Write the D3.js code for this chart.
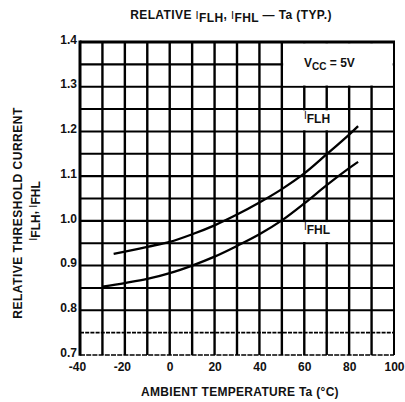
<!DOCTYPE html>
<html><head><meta charset="utf-8">
<script src="https://cdn.jsdelivr.net/npm/d3@7"></script>
<style>
body{margin:0;background:#fff}
svg{display:block}
text{font-family:"Liberation Sans",Arial,sans-serif;font-weight:bold;fill:#111}
</style>
</head><body><svg id="c" width="405" height="402"></svg>
<script>
// ---- data ----
const xTicks = [-40, -20, 0, 20, 40, 60, 80, 100];
const yTicks = [0.7, 0.8, 0.9, 1.0, 1.1, 1.2, 1.3, 1.4];
const yTickLabels = ["0.7", "0.8", "0.9", "1.0", "1.1", "1.2", "1.3", "1.4"];
const flhTemp = [-25, -20, -10, 0, 10, 20, 30, 40, 50, 60, 70, 80, 84];
const flhVal  = [0.926, 0.931, 0.942, 0.953, 0.970, 0.990, 1.014, 1.041, 1.071, 1.106, 1.149, 1.193, 1.212];
const fhlTemp = [-30, -20, -10, 0, 10, 20, 30, 40, 50, 60, 70, 80, 84];
const fhlVal  = [0.853, 0.861, 0.870, 0.883, 0.900, 0.920, 0.944, 0.970, 1.001, 1.039, 1.080, 1.118, 1.132];

const svg = d3.select("#c");
const L = 80, R = 394, T = 42, B = 355;
const x = d3.scaleLinear().domain([-40, 100]).range([L, R]);
const y = d3.scaleLinear().domain([0.7, 1.4]).range([B, T]);

// grid
const g = svg.append("g");
g.selectAll("line.v").data(d3.range(-30, 100, 10)).join("line").attr("class", "v")
  .attr("x1", d => x(d)).attr("x2", d => x(d)).attr("y1", T).attr("y2", B)
  .attr("stroke", "#000").attr("stroke-width", 2.4);
const hVals = d3.range(15, 28).map(i => +(i * 0.05).toFixed(2));
g.selectAll("line.h").data(hVals).join("line").attr("class", "h")
  .attr("x1", L).attr("x2", R).attr("y1", d => y(d)).attr("y2", d => y(d))
  .attr("stroke", "#000").attr("stroke-width", d => d === 0.75 ? 1.6 : 2.1)
  .attr("stroke-dasharray", d => d === 0.75 ? "4,1.2" : null);

// white label boxes
function whiteBox(t0, t1, v0, v1) {
  svg.append("rect")
    .attr("x", x(t0) + 1.3).attr("y", y(v1) + 1.2)
    .attr("width", x(t1) - x(t0) - 2.6).attr("height", y(v0) - y(v1) - 2.4)
    .attr("fill", "#fff");
}
whiteBox(50, 100, 1.3, 1.4);
whiteBox(50, 80, 1.2, 1.25);
whiteBox(50, 80, 0.95, 1.0);

// frame
const fr = svg.append("g").attr("stroke", "#000").attr("fill", "none");
fr.append("line").attr("x1", L).attr("x2", L).attr("y1", T - 1.5).attr("y2", B + 0.8).attr("stroke-width", 3);
fr.append("line").attr("x1", L).attr("x2", R + 1).attr("y1", T).attr("y2", T).attr("stroke-width", 3);
fr.append("line").attr("x1", R).attr("x2", R).attr("y1", T).attr("y2", B).attr("stroke-width", 2);
fr.append("line").attr("x1", L).attr("x2", R).attr("y1", B).attr("y2", B).attr("stroke-width", 1.6)
  .attr("stroke-dasharray", "5,1.2");

// curves
const line = d3.line().x(d => x(d[0])).y(d => y(d[1])).curve(d3.curveCatmullRom.alpha(0.5));
svg.append("path").datum(flhTemp.map((t, i) => [t, flhVal[i]]))
  .attr("d", line).attr("fill", "none").attr("stroke", "#000").attr("stroke-width", 2.3);
svg.append("path").datum(fhlTemp.map((t, i) => [t, fhlVal[i]]))
  .attr("d", line).attr("fill", "none").attr("stroke", "#000").attr("stroke-width", 2.3);

// axes tick labels
const xa = d3.axisBottom(x).tickValues(xTicks).tickSize(0).tickPadding(0).tickFormat(d => String(d));
const gx = svg.append("g").attr("transform", `translate(0,${B})`).call(xa);
gx.select(".domain").remove();
gx.selectAll("text").attr("dy", null).attr("y", 16).attr("font-size", 12)
  .attr("font-family", "Liberation Sans, Arial, sans-serif").attr("fill", "#111");
gx.selectAll(".tick").filter(d => d < 0).select("text").attr("dx", -3);

const ya = d3.axisLeft(y).tickValues(yTicks).tickSize(0).tickPadding(0)
  .tickFormat((d, i) => yTickLabels[i]);
const gy = svg.append("g").attr("transform", `translate(${L - 3},0)`).call(ya);
gy.select(".domain").remove();
gy.selectAll("text").attr("font-size", 12).attr("dy", "0.1em").attr("x", 0)
  .attr("font-family", "Liberation Sans, Arial, sans-serif").attr("fill", "#111");

// helper for I with subscript
function subLabel(sel, parts) {
  parts.forEach(p => {
    const ts = sel.append("tspan").text(p.t);
    if (p.fs) ts.attr("font-size", p.fs);
    if (p.dy) ts.attr("dy", p.dy);
    if (p.fw) ts.attr("font-weight", p.fw);
  });
}

// title
const title = svg.append("text").attr("x", 231).attr("y", 19).attr("text-anchor", "middle")
  .attr("font-size", 12).attr("letter-spacing", 0.4);
subLabel(title, [
  {t: "RELATIVE "}, {t: "I", fw: "normal", fs: 11}, {t: "FLH", dy: 3},
  {t: ", ", dy: -3}, {t: "I", fw: "normal", fs: 11}, {t: "FHL", dy: 3},
  {t: " — Ta (TYP.)", dy: -3}
]);

// Vcc label
const vcc = svg.append("text").attr("x", 304).attr("y", 67).attr("font-size", 12);
subLabel(vcc, [{t: "V"}, {t: "CC", fs: 10, dy: 3}, {t: " = 5V", dy: -3}]);

// curve labels
const lf = svg.append("text").attr("x", 304).attr("y", 119).attr("font-size", 12);
subLabel(lf, [{t: "I", fw: "normal", fs: 10}, {t: "FLH", dy: 4}]);
const lh = svg.append("text").attr("x", 304).attr("y", 230).attr("font-size", 12);
subLabel(lh, [{t: "I", fw: "normal", fs: 10}, {t: "FHL", dy: 4}]);

// axis titles
svg.append("text").attr("x", 240).attr("y", 396).attr("text-anchor", "middle")
  .attr("font-size", 12).attr("letter-spacing", 0.3).text("AMBIENT TEMPERATURE Ta (°C)");

svg.append("text").attr("transform", "translate(22,213) rotate(-90)")
  .attr("text-anchor", "middle").attr("font-size", 12).attr("letter-spacing", 0.5)
  .text("RELATIVE THRESHOLD CURRENT");
const yt2 = svg.append("text").attr("transform", "translate(37,211) rotate(-90)")
  .attr("text-anchor", "middle").attr("font-size", 12);
subLabel(yt2, [{t: "I", fw: "normal", fs: 11}, {t: "FLH", dy: 3}, {t: ", ", dy: -3},
  {t: "I", fw: "normal", fs: 11}, {t: "FHL", dy: 3}]);
</script>
</body></html>
